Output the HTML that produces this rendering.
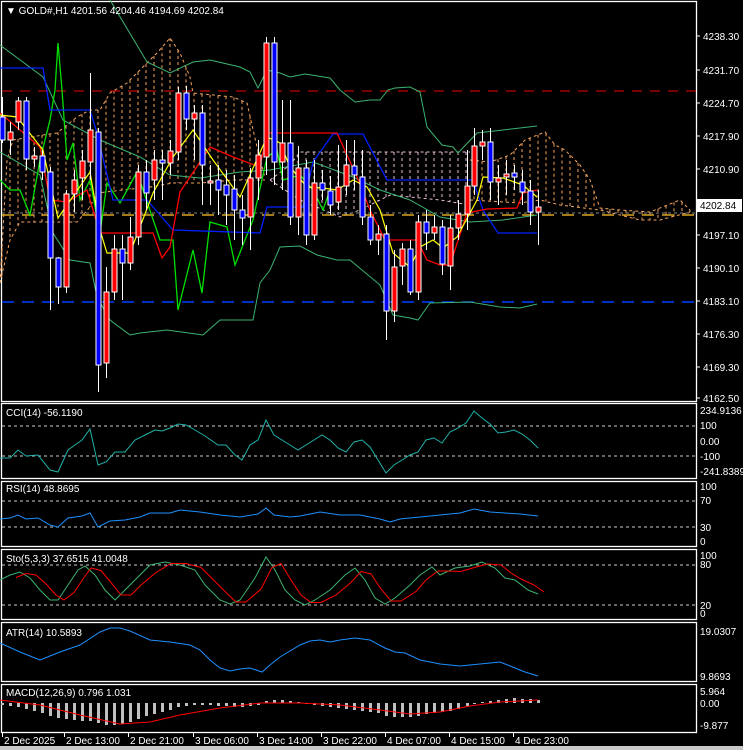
<!DOCTYPE html>
<html><head><meta charset="utf-8"><style>
body{margin:0;background:#000;width:743px;height:750px;overflow:hidden}
svg{display:block}
text{font-family:"Liberation Sans",sans-serif;font-size:10px;fill:#fff}
</style></head><body>
<svg id="s" width="743" height="750" xmlns="http://www.w3.org/2000/svg">
<rect x="0" y="0" width="743" height="750" fill="#000"/>
<rect x="0" y="746" width="743" height="4" fill="#c8c8c8"/>
<g fill="none" stroke="#fff" stroke-width="1.3">
<rect x="1.5" y="1.5" width="695" height="400"/>
<rect x="1.5" y="403.5" width="695" height="75"/>
<rect x="1.5" y="481.5" width="695" height="65"/>
<rect x="1.5" y="549.5" width="695" height="70"/>
<rect x="1.5" y="622.5" width="695" height="59"/>
<rect x="1.5" y="684.5" width="695" height="48"/>
</g>
<g id="g"></g>
<text x="6" y="14" font-size="11">▼ GOLD#,H1  4201.56 4204.46 4194.69 4202.84</text>
<text x="6" y="416">CCI(14) -56.1190</text>
<text x="6" y="492">RSI(14) 48.8695</text>
<text x="6" y="562">Sto(5,3,3) 37.6515 41.0048</text>
<text x="6" y="636">ATR(14) 10.5893</text>
<text x="6" y="696">MACD(12,26,9) 0.796 1.031</text>
</svg>
<script>
var g=document.getElementById('g'),h='';
function pl(pts,c,w,d){h+='<polyline fill="none" stroke="'+c+'" stroke-width="'+(w||1)+'"'+(d?' stroke-dasharray="'+d+'"':'')+' points="'+pts+'"/>';}
function ln(x1,y1,x2,y2,c,d,w){h+='<line x1="'+x1+'" y1="'+y1+'" x2="'+x2+'" y2="'+y2+'" stroke="'+c+'"'+(d?' stroke-dasharray="'+d+'"':'')+' stroke-width="'+(w||1)+'"/>';}
function tx(x,y,t,c){h+='<text x="'+x+'" y="'+y+'"'+(c?' style="fill:'+c+'"':'')+'>'+t+'</text>';}
function cloud(top,bot,c,x0,x1){for(var x=x0;x<=x1;x+=8){var a=interp(top,x),b=interp(bot,x);ln(x,a,x,b,c,'3,3');}pl(top.join(' '),c,1,'3,3');pl(bot.join(' '),c,1,'3,3');}
function interp(p,x){for(var i=0;i<p.length-1;i++){var a=p[i],b=p[i+1];if(x>=a[0]&&x<=b[0]){return a[1]+(b[1]-a[1])*(x-a[0])/(b[0]-a[0]||1);}}return p[p.length-1][1];}
var o='#f4a460',pk='#e8c0d8';
cloud([[0,283],[7,160],[13,140],[43,135],[57,133],[77,117],[90,110],[100,110],[110,93],[127,83],[143,67],[157,53],[170,38],[180,53],[190,77],[193,93],[233,97],[247,103],[257,147],[265,178]],[[0,283],[10,240],[20,222],[77,222],[90,207],[97,193],[123,190],[150,187],[173,183],[200,183],[233,180],[265,180]],o,2,262);
cloud([[270,180],[290,165],[300,152],[470,152]],[[270,180],[300,200],[340,217],[360,210],[390,195],[440,200],[470,205]],pk,274,470);
cloud([[470,160],[490,162],[510,155],[525,140],[545,132],[555,145],[565,150],[580,165],[590,180],[600,208],[620,210],[650,212],[680,200],[690,210]],[[470,200],[520,203],[540,200],[560,205],[600,210],[640,220],[660,220],[690,212]],o,474,690);
ln(2,91,696,91,'#e00','10,8');ln(2,215,696,215,'#daa520','12,8',1.5);ln(2,302,696,302,'#0040ff','12,8',1.5);ln(2,213,696,213,'#888','3,3');
var bb='#3cb371';
pl('110,0 147,62 170,73 193,62 210,60 240,67 250,72 258,88 267,70 280,73 290,77 305,74 330,78 340,90 355,102 370,100 380,100 388,90 395,88 410,87 420,92 427,127 442,145 453,147 458,153 477,133 503,130 537,126',bb);
pl('0,45 43,77 63,120 100,140 140,157 170,175 200,178 240,172 270,170 313,162 353,177 380,190 410,200 440,217 470,222 503,220 537,215',bb);
pl('0,152 40,175 53,233 70,260 90,263 97,297 110,320 130,335 140,333 167,330 203,335 220,320 253,320 260,283 270,270 280,247 300,246 317,255 337,260 350,260 380,285 393,315 410,318 418,320 430,303 470,302 500,307 520,308 537,304',bb);
pl('0,180 10,190 20,190 30,215 40,160 50,120 55,90 58,43 62,90 67,160 73,143 80,200 90,180 100,233 107,183 120,203 137,172 160,240 173,240 178,310 193,250 202,293 210,222 227,227 235,265 253,220 267,157 277,150 283,180 300,175 313,190 323,210 330,190','#00e000',1.3);
pl('0,68 43,68 50,110 90,110 97,133 113,200 147,200 173,230 260,233 267,207 303,207 313,162 333,134 363,134 387,180 473,180 483,210 498,233 537,233','#0020ff',1.3);
pl('0,113 40,147 50,200 67,202 87,190 100,233 153,233 162,258 170,247 180,192 210,147 233,157 260,167 267,133 337,133 357,177 370,210 385,240 417,240 427,260 440,265 450,265 467,213 487,209 517,208 523,193 537,190','#ff0000',1.3);
pl('0,115 17,117 43,150 58,218 90,172 100,230 107,253 130,253 153,193 173,157 193,130 213,160 240,197 267,137 280,143 290,167 307,187 323,188 337,190 353,180 367,187 380,210 393,253 410,267 420,247 433,240 443,248 457,237 477,200 483,177 503,178 523,185 537,197','#ffff00',1.2);
var C=[[2,1,117,140,97,143],[10,0,132,140,122,155],[18,0,101,122,97,130],[26,1,101,159,97,170],[34,0,156,159,147,167],[42,1,156,172,150,180],[50,1,172,258,167,310],[58,1,258,287,257,304],[66,0,194,287,190,293],[74,0,180,194,170,212],[82,0,161,178,150,200],[90,0,130,162,73,180],[98,1,132,365,128,392],[106,0,292,363,267,378],[114,0,249,292,235,300],[122,1,249,263,235,300],[130,0,237,263,217,270],[138,0,172,237,165,245],[146,1,172,193,160,210],[154,0,160,180,150,200],[162,1,160,163,150,200],[170,0,151,163,140,175],[178,0,93,152,87,160],[186,1,93,119,86,130],[194,0,113,119,105,160],[202,1,113,165,105,205],[210,0,181,183,165,205],[218,1,180,190,165,215],[226,1,185,195,170,225],[234,1,189,210,175,240],[242,1,210,218,195,245],[250,0,178,217,168,250],[258,0,155,178,140,200],[266,0,43,157,37,175],[274,1,43,162,37,185],[282,0,143,162,100,190],[290,1,143,217,100,225],[298,0,168,217,146,235],[306,1,168,235,160,245],[314,0,183,235,160,240],[322,1,183,190,170,200],[330,1,191,205,176,215],[338,0,187,202,145,210],[346,0,165,186,140,195],[354,1,166,175,140,190],[362,1,177,217,150,225],[370,1,217,240,205,245],[378,0,234,240,225,255],[386,1,234,311,225,340],[394,0,267,311,250,322],[402,0,249,266,243,285],[410,1,249,292,240,295],[418,0,222,292,215,300],[426,1,222,233,210,250],[434,0,227,233,215,240],[442,1,227,264,220,275],[450,0,228,266,215,290],[458,0,214,228,200,240],[467,0,186,214,150,230],[474,0,146,186,128,195],[482,0,142,146,130,160],[490,1,142,182,128,200],[498,0,178,182,165,205],[506,0,174,177,160,195],[514,1,173,177,165,190],[522,1,182,192,170,205],[530,1,191,212,180,225],[538,0,207,212,190,245]];
C.forEach(function(c){ln(c[0]+.5,c[4],c[0]+.5,c[5],'#fff');h+='<rect x="'+(c[0]-2)+'" y="'+c[2]+'" width="5" height="'+Math.max(2,c[3]-c[2])+'" fill="'+(c[1]?'#0000ff':'#ff0000')+'" stroke="#fff" stroke-width="1"/>';});
[['4238.30',36],['4231.70',70],['4224.70',103],['4217.90',136],['4210.90',169],['4197.10',235],['4190.10',268],['4183.10',301],['4176.30',334],['4169.30',367],['4162.50',398]].forEach(function(p){ln(696,p[1],700,p[1],'#fff');tx(703,p[1]+4,p[0]);});
h+='<rect x="697" y="199" width="45" height="13" fill="#fff"/>';h+='<text x="700" y="209" style="fill:#000">4202.84</text>';
ln(2,426,696,426,'#ccc','3,3');ln(2,456,696,456,'#ccc','3,3');
[['234.9136',414],['100',429],['0.00',445],['-100',460],['-241.8389',475]].forEach(function(p){tx(700,p[1],p[0]);});
pl('0,458 10,458 18,450 26,456 38,455 50,470 58,472 68,450 75,445 82,440 90,429 98,465 106,462 115,452 125,452 135,440 145,435 155,430 162,431 170,428 178,424 186,425 195,430 205,436 218,445 226,445 235,455 242,460 250,445 258,440 266,420 274,435 282,440 290,445 298,450 306,445 314,440 322,435 330,440 338,448 346,452 354,442 362,440 370,447 378,460 386,473 394,465 402,460 410,455 418,452 426,440 434,438 442,443 450,432 458,428 466,423 474,411 482,418 490,424 498,433 506,432 514,430 522,434 530,440 538,448','#20b2aa');
ln(2,501,696,501,'#ccc','3,3');ln(2,527,696,527,'#ccc','3,3');
[['100',490],['70',504],['30',531],['0',545]].forEach(function(p){tx(700,p[1],p[0]);});
pl('0,519 10,518 18,515 26,519 38,518 50,525 58,527 68,518 82,516 90,513 98,527 110,521 125,520 140,517 150,513 170,513 180,510 200,512 220,515 240,517 258,514 266,508 274,515 290,517 300,516 320,512 340,515 360,515 380,519 390,522 400,519 420,517 440,515 460,513 474,509 490,512 520,514 538,516','#1e90ff');
ln(2,565,696,565,'#ccc','3,3');ln(2,605,696,605,'#ccc','3,3');
[['100',559],['80',568],['20',609],['0',617]].forEach(function(p){tx(700,p[1],p[0]);});
var sg=[[0,580],[10,575],[20,572],[30,578],[40,590],[50,600],[58,600],[68,585],[78,570],[85,566],[95,575],[105,590],[115,600],[125,590],[135,580],[150,565],[165,562],[180,565],[195,570],[205,585],[220,600],[230,604],[240,600],[255,578],[266,557],[275,570],[285,590],[295,600],[305,605],[315,600],[330,590],[345,575],[355,568],[365,580],[375,598],[385,604],[395,598],[410,585],[420,575],[432,567],[440,575],[455,568],[470,566],[482,562],[495,568],[505,578],[515,580],[528,590],[538,594]];
pl(sg.map(function(p){return p.join(',')}).join(' '),'#3cb371');
pl(sg.map(function(p,i){var q=sg[Math.max(0,i-1)];return (p[0])+','+((p[1]+q[1])/2)}).slice(1).map(function(s){var p=s.split(',');return (+p[0]+6)+','+p[1]}).join(' '),'#ff0000');
[['19.0307',635],['9.8693',680]].forEach(function(p){tx(700,p[1],p[0]);});
pl('0,643 20,652 40,660 60,652 80,645 100,632 110,628 120,628 130,631 150,640 170,642 190,645 200,650 210,660 220,668 230,671 240,669 250,668 262,672 270,665 280,657 290,651 300,645 310,641 320,640 330,642 340,640 355,638 370,640 385,648 395,652 405,653 420,660 440,664 460,666 480,664 500,662 515,668 525,672 538,676','#1e90ff');
[['5.964',695],['0.00',707],['-9.877',729]].forEach(function(p){tx(700,p[1],p[0]);});
var mh=[[2,-2],[10,-3],[18,-4],[26,-6],[34,-8],[42,-10],[50,-13],[58,-15],[66,-16],[74,-17],[82,-18],[90,-18],[98,-20],[106,-22],[114,-22],[122,-21],[130,-19],[138,-16],[146,-13],[154,-11],[162,-9],[170,-7],[178,-4],[186,-3],[194,-2],[202,-2],[210,-2],[218,-3],[226,-3],[234,-4],[242,-4],[250,-3],[258,-2],[266,2],[274,3],[282,3],[290,2],[298,1],[306,-1],[314,-2],[322,-3],[330,-4],[338,-5],[346,-6],[354,-7],[362,-8],[370,-9],[378,-10],[386,-13],[394,-14],[402,-14],[410,-14],[418,-13],[426,-11],[434,-10],[442,-9],[450,-8],[458,-6],[467,-3],[474,-1],[482,1],[490,2],[498,3],[506,4],[514,5],[522,4],[530,4],[538,3]];
mh.forEach(function(m){var y0=703;h+='<rect x="'+(m[0]-1)+'" y="'+(m[1]<0?y0:y0-m[1])+'" width="3" height="'+Math.abs(m[1])+'" fill="#c0c0c0"/>';});
pl('0,700 40,705 80,715 120,724 150,722 180,715 220,708 260,703 300,703 340,705 380,710 410,714 440,712 470,706 500,702 538,700','#ff0000');
[['2 Dec 2025',2],['2 Dec 13:00',64],['2 Dec 21:00',128],['3 Dec 06:00',193],['3 Dec 14:00',257],['3 Dec 22:00',321],['4 Dec 07:00',385],['4 Dec 15:00',449],['4 Dec 23:00',513]].forEach(function(p){ln(p[1]+.5,733,p[1]+.5,737,'#fff');tx(p[1]+2,744,p[0]);});
g.innerHTML=h;
</script>
</body></html>
